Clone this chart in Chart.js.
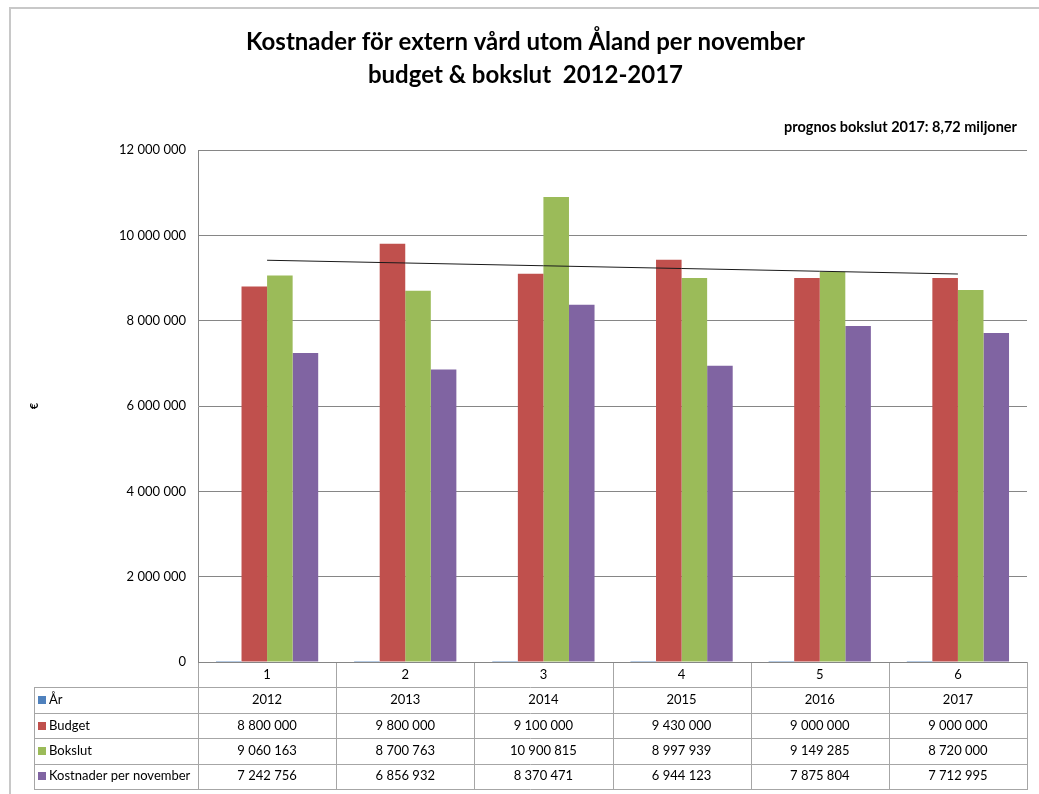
<!DOCTYPE html>
<html>
<head>
<meta charset="utf-8">
<script src="https://cdn.jsdelivr.net/npm/chart.js"></script>
<style>
  body { margin: 0; background: #fff; }
  #wrap { width: 1039px; height: 794px; position: relative; }
</style>
</head>
<body>
<div id="wrap"><canvas id="kostnader"></canvas></div>
<script>
// data
const categories = ['1', '2', '3', '4', '5', '6'];
const ar = [2012, 2013, 2014, 2015, 2016, 2017];
const budget = [8800000, 9800000, 9100000, 9430000, 9000000, 9000000];
const bokslut = [9060163, 8700763, 10900815, 8997939, 9149285, 8720000];
const kostnader = [7242756, 6856932, 8370471, 6944123, 7875804, 7712995];
const yTicks = [0, 2000000, 4000000, 6000000, 8000000, 10000000, 12000000];
const prognos = 'prognos bokslut 2017: 8,72 miljoner';

const FONT = 'Lato, "Open Sans", sans-serif';

function fmt(n) {
  return String(n).replace(/\B(?=(\d{3})+(?!\d))/g, ' ');
}

// linear trendline (Excel style) on Bokslut
function trend(vals) {
  const n = vals.length;
  let sx = 0, sy = 0, sxy = 0, sxx = 0;
  vals.forEach((v, i) => { const x = i + 1; sx += x; sy += v; sxy += x * v; sxx += x * x; });
  const b = (n * sxy - sx * sy) / (n * sxx - sx * sx);
  const a = (sy - b * sx) / n;
  return vals.map((v, i) => a + b * (i + 1));
}

const rows = [
  { name: 'År', color: '#4F81BD', vals: ar, f: v => String(v) },
  { name: 'Budget', color: '#C0504D', vals: budget, f: fmt },
  { name: 'Bokslut', color: '#9BBB59', vals: bokslut, f: fmt },
  { name: 'Kostnader per november', color: '#8064A2', vals: kostnader, f: fmt }
];

// data table under the plot, prognos note + outer frame
const dataTable = {
  id: 'dataTable',
  afterDraw(chart) {
    const ctx = chart.ctx;
    const area = chart.chartArea;
    const x = chart.scales.x;
    const n = categories.length;
    const colW = (area.right - area.left) / n;
    const rowH = 25.4;
    const tableLeft = 34;
    const bottom = area.bottom + rowH * 5;
    ctx.save();
    ctx.strokeStyle = '#a6a6a6';
    ctx.lineWidth = 1;
    ctx.beginPath();
    for (let k = 1; k <= 5; k++) {
      const y = Math.round(area.bottom + k * rowH) + 0.5;
      ctx.moveTo(tableLeft, y); ctx.lineTo(area.right, y);
    }
    ctx.moveTo(tableLeft + 0.5, Math.round(area.bottom + rowH)); ctx.lineTo(tableLeft + 0.5, Math.round(bottom) + 1);
    for (let i = 0; i <= n; i++) {
      const xx = Math.round(area.left + i * colW) + 0.5;
      ctx.moveTo(xx, area.bottom); ctx.lineTo(xx, Math.round(bottom) + 1);
    }
    ctx.stroke();
    // x axis line
    ctx.strokeStyle = '#868686';
    ctx.beginPath();
    ctx.moveTo(area.left, Math.round(area.bottom) + 0.5); ctx.lineTo(area.right, Math.round(area.bottom) + 0.5);
    ctx.stroke();

    ctx.fillStyle = '#000';
    ctx.font = '13px ' + FONT;
    ctx.textAlign = 'center';
    ctx.textBaseline = 'middle';
    categories.forEach((c, i) => {
      ctx.fillText(c, x.getPixelForValue(i), area.bottom + rowH / 2);
    });
    rows.forEach((r, k) => {
      const cy = area.bottom + rowH * (k + 1.5);
      r.vals.forEach((v, i) => {
        ctx.fillText(r.f(v), x.getPixelForValue(i), cy);
      });
      ctx.fillStyle = r.color;
      ctx.fillRect(tableLeft + 4, Math.round(cy) - 4, 8, 8);
      ctx.fillStyle = '#000';
      ctx.textAlign = 'left';
      ctx.fillText(r.name, tableLeft + 15, cy);
      ctx.textAlign = 'center';
    });

    // prognos note, top right
    ctx.font = 'bold 14.5px ' + FONT;
    ctx.textAlign = 'right';
    ctx.fillText(prognos, 1017, 127);

    // outer chart frame
    ctx.strokeStyle = '#c8c8c8';
    ctx.lineWidth = 2;
    ctx.strokeRect(10, 8, 1040, 800);
    ctx.restore();
  }
};

new Chart(document.getElementById('kostnader'), {
  type: 'bar',
  data: {
    labels: categories,
    datasets: [
      { label: 'År', data: ar, backgroundColor: '#4F81BD', order: 2 },
      { label: 'Budget', data: budget, backgroundColor: '#C0504D', order: 2 },
      { label: 'Bokslut', data: bokslut, backgroundColor: '#9BBB59', order: 2 },
      { label: 'Kostnader per november', data: kostnader, backgroundColor: '#8064A2', order: 2 },
      { type: 'line', label: 'Trend Bokslut', data: trend(bokslut), borderColor: '#1a1a1a', borderWidth: 1,
        pointRadius: 0, fill: false, order: 1 }
    ]
  },
  options: {
    responsive: true,
    maintainAspectRatio: false,
    animation: false,
    datasets: { bar: { categoryPercentage: 0.74, barPercentage: 1 } },
    layout: { padding: { left: 24, right: 12, top: 0, bottom: 0 } },
    plugins: {
      legend: { display: false },
      tooltip: { enabled: false },
      title: {
        display: true,
        text: ['Kostnader för extern vård utom Åland per november', 'budget & bokslut  2012-2017'],
        color: '#000',
        font: { family: FONT, size: 24, weight: 'bold', lineHeight: 1.375 },
        padding: { top: 26, bottom: 58 }
      }
    },
    scales: {
      x: {
        ticks: { display: false },
        grid: { display: false },
        border: { display: false },
        afterFit(scale) { scale.height = 132; }
      },
      y: {
        min: 0,
        max: 12000000,
        afterBuildTicks(scale) { scale.ticks = yTicks.map(v => ({ value: v })); },
        ticks: {
          color: '#000',
          font: { family: FONT, size: 13 },
          padding: 12,
          callback: v => fmt(v)
        },
        grid: { color: '#868686', drawTicks: true, tickLength: 0 },
        border: { color: '#868686' },
        title: {
          display: true,
          text: '€',
          color: '#000',
          font: { family: FONT, size: 11, weight: 'bold' },
          padding: { top: 4 }
        },
        afterFit(scale) { scale.width = 174; }
      }
    }
  },
  plugins: [dataTable]
});
</script>
</body>
</html>
